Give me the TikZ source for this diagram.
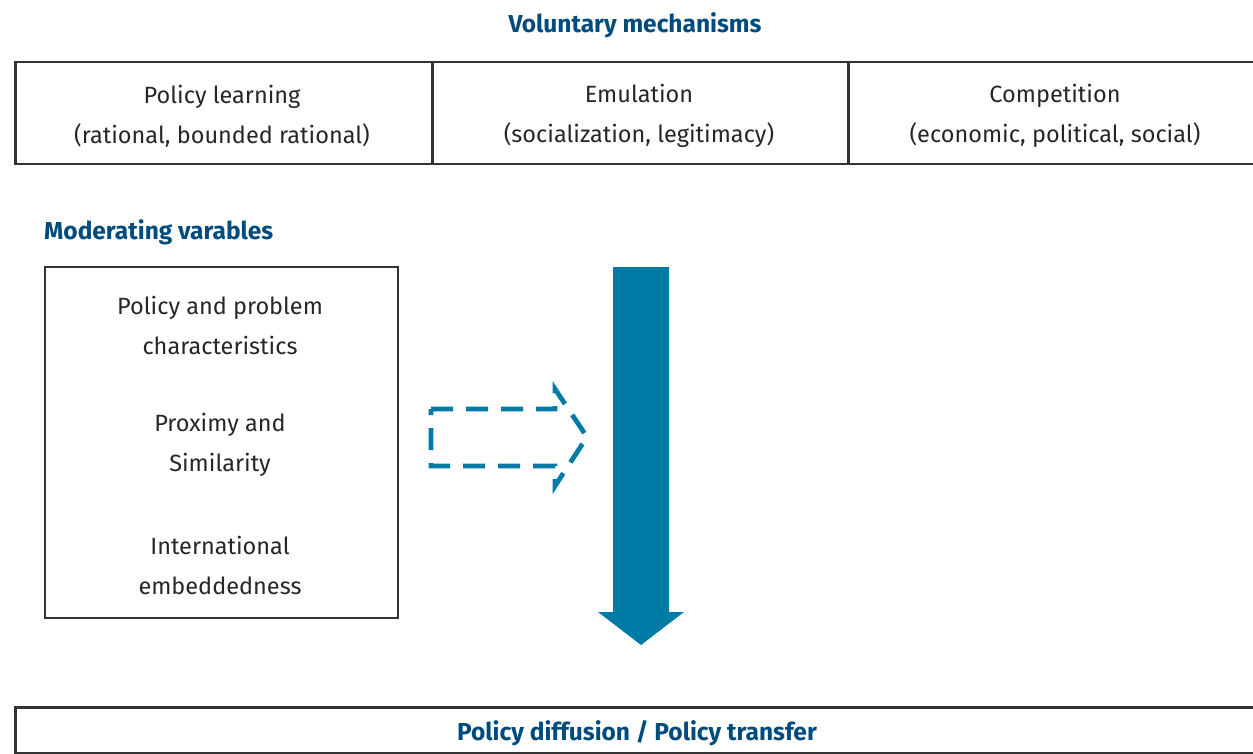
\documentclass[tikz,border=0pt]{standalone}
\usepackage{fontspec}
\setmainfont{Fira Sans}
\definecolor{titleblue}{HTML}{004B7D}
\definecolor{arrowblue}{HTML}{007BA5}
\definecolor{boxline}{HTML}{333333}
\tikzset{
  cell/.style={draw=boxline, line width=2.5pt, minimum height=102pt, inner sep=0pt, align=center, font=\fontsize{23.5}{40}\selectfont, text=black!85},
  head/.style={font=\fontsize{24.5}{28}\bfseries\selectfont, text=titleblue, inner sep=0pt},
  modtext/.style={font=\fontsize{23.5}{40}\selectfont, text=black!85, align=center, inner sep=0pt},
}
\begin{document}
\begin{tikzpicture}[x=1pt,y=-1pt]
\useasboundingbox (0,0) rectangle (1253,754);
\clip (0,0) rectangle (1253,754);
\node[head] (title) at (635,25) {Voluntary mechanisms};
\node[cell, minimum width=417pt, anchor=north west] (c1) at (14,61) {};
\node[cell, minimum width=416pt, anchor=north west] (c2) at (431,61) {};
\node[cell, minimum width=416pt, anchor=north west] (c3) at (847,61) {};
\node[modtext] (c1t) at (222,116) {Policy learning\\(rational, bounded rational)};
\node[modtext] (c2t) at (639,116) {Emulation\\(socialization, legitimacy)};
\node[modtext] (c3t) at (1055,116) {Competition\\(economic, political, social)};
\node[head, anchor=west] (mod) at (44,232) {Moderating varables};
\node[draw=boxline, line width=2pt, minimum width=353pt, minimum height=351pt, anchor=north west] (mbox) at (44,266) {};
\node[modtext] (m1) at (220,325) {Policy and problem\\characteristics};
\node[modtext] (m2) at (220,445) {Proximy and\\Similarity};
\node[modtext] (m3) at (220,565) {International\\embeddedness};
\fill[arrowblue] (613,267) -- (669,267) -- (669,612) -- (684,612) -- (641,645) -- (598,612) -- (613,612) -- cycle;
\draw[arrowblue, line width=4.8pt, dash pattern=on 22pt off 13pt, line join=miter] (431,409) -- (555,409) -- (555,389) -- (587,437) -- (555,486) -- (555,466) -- (431,466) -- cycle;
\node[draw=boxline, line width=2.5pt, minimum width=1260pt, minimum height=46pt, anchor=north west] (bot) at (14,706) {};
\node[head] (bott) at (637,733) {Policy diffusion / Policy transfer};
\end{tikzpicture}
\end{document}
